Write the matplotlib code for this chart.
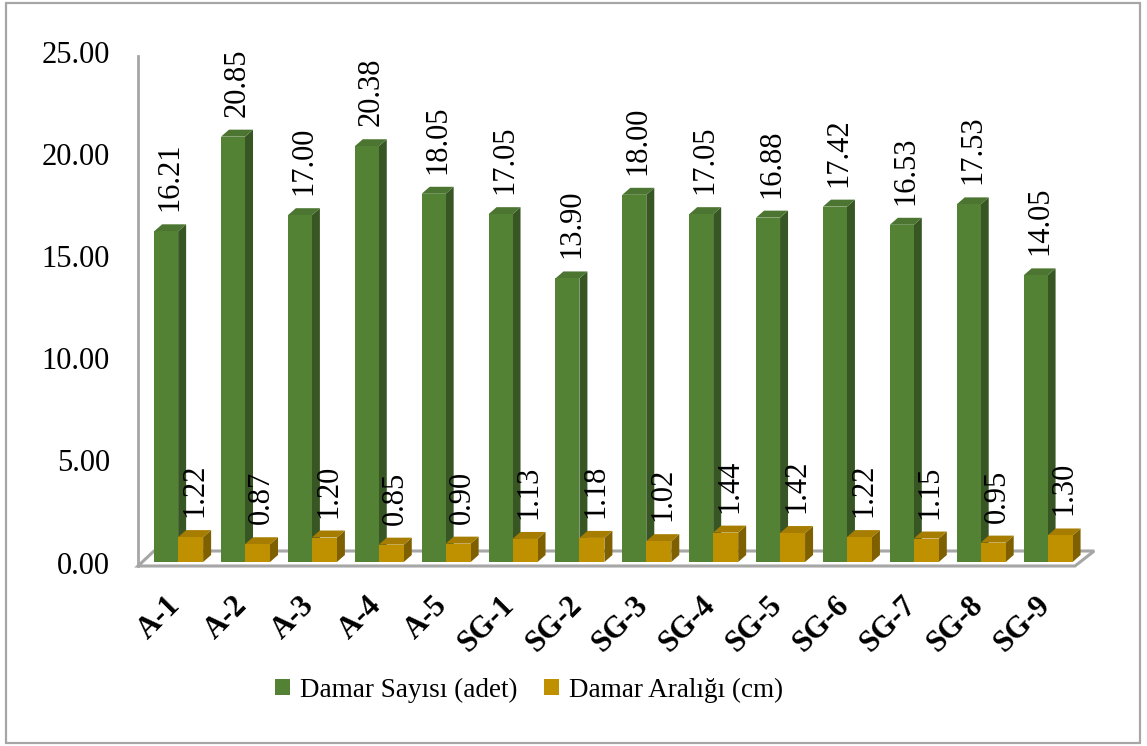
import matplotlib
matplotlib.use("Agg")
import matplotlib.pyplot as plt
from matplotlib.patches import Polygon, Patch, Rectangle
from matplotlib.transforms import blended_transform_factory

categories = ["A-1", "A-2", "A-3", "A-4", "A-5", "SG-1", "SG-2", "SG-3", "SG-4",
              "SG-5", "SG-6", "SG-7", "SG-8", "SG-9"]
damar_sayisi = [16.21, 20.85, 17.00, 20.38, 18.05, 17.05, 13.90, 18.00, 17.05,
                16.88, 17.42, 16.53, 17.53, 14.05]
damar_araligi = [1.22, 0.87, 1.20, 0.85, 0.90, 1.13, 1.18, 1.02, 1.44,
                 1.42, 1.22, 1.15, 0.95, 1.30]
series_names = ["Damar Sayısı (adet)", "Damar Aralığı (cm)"]
y_ticks = [0, 5, 10, 15, 20, 25]

W, H = 1147, 746
plt.rcParams['font.family'] = ['Liberation Serif', 'DejaVu Serif']

fig = plt.figure(figsize=(W / 100, H / 100), dpi=100)
# outer border
fig.patches.append(Rectangle((6 / W, 3 / H), (1140 - 6) / W, (743 - 3) / H,
                             transform=fig.transFigure, fill=False,
                             edgecolor='#a6a6a6', lw=1.6))

ax_l, ax_r, ax_b, ax_t = 138, 1075, 566, 56
ax = fig.add_axes([ax_l / W, 1 - ax_b / H, (ax_r - ax_l) / W, (ax_b - ax_t) / H])
xmin, xmax = -0.6, 13.41
ymin, ymax = 0, 25
ax.set_xlim(xmin, xmax)
ax.set_ylim(ymin, ymax)
ax.axis('off')

ppx = (ax_r - ax_l) / (xmax - xmin)   # pixels per x unit
ppy = (ax_b - ax_t) / (ymax - ymin)   # pixels per y unit

def dx(p):
    return p / ppx

def dy(p):
    return p / ppy

# floor
fdx, fdy = dx(16), dy(15)
floor = Polygon([(xmin, 0), (xmax, 0), (xmax + fdx * 1.2, fdy), (xmin + fdx, fdy)],
                closed=True, facecolor='white', edgecolor='#a6a6a6', lw=2.2,
                clip_on=False, zorder=1)
ax.add_patch(floor)
# left axis line
ax.plot([xmin, xmin], [0, 25], color='#a6a6a6', lw=2, clip_on=False, zorder=1)

# bars
gw = dx(24)
ow = dx(25)
bdx, bdy = dx(8), dy(7)
base = dy(4)
green = ('#548235', '#375623', '#4b7530')
gold = ('#bf9000', '#7f6000', '#a67d00')

def bar3d(x0, w, v, cols, z):
    y0 = base
    y1 = base + v
    front = Polygon([(x0, y0), (x0 + w, y0), (x0 + w, y1), (x0, y1)],
                    closed=True, facecolor=cols[0], edgecolor='none', zorder=z, clip_on=False)
    side = Polygon([(x0 + w, y0), (x0 + w + bdx, y0 + bdy), (x0 + w + bdx, y1 + bdy), (x0 + w, y1)],
                   closed=True, facecolor=cols[1], edgecolor='none', zorder=z, clip_on=False)
    top = Polygon([(x0, y1), (x0 + w, y1), (x0 + w + bdx, y1 + bdy), (x0 + bdx, y1 + bdy)],
                  closed=True, facecolor=cols[2], edgecolor='none', zorder=z, clip_on=False)
    for p in (side, top, front):
        ax.add_patch(p)

gap = dy(13)
for i, (g, o) in enumerate(zip(damar_sayisi, damar_araligi)):
    bar3d(i - gw, gw, g, green, 3 + i * 2)
    bar3d(i, ow, o, gold, 4 + i * 2)
    ax.text(i - gw / 2 + bdx / 2, base + g + bdy + gap, f"{g:.2f}", rotation=90,
            ha='center', va='bottom', fontsize=22, zorder=50)
    ax.text(i + ow / 2 + bdx / 2, base + o + bdy + gap, f"{o:.2f}", rotation=90,
            ha='center', va='bottom', fontsize=22, zorder=50)

# y tick labels
for t in y_ticks:
    ax.text(xmin - dx(28), t, f"{t:.2f}", ha='right', va='center', fontsize=22)

# category labels
tr = blended_transform_factory(ax.transData, ax.transAxes)
for i, c in enumerate(categories):
    ax.annotate(c, xy=(i, 0), xycoords=tr, xytext=(-9, -18), textcoords='offset points',
                rotation=45, ha='right', va='top', rotation_mode='anchor',
                fontsize=22, fontweight='bold')

handles = [Patch(facecolor=green[0], edgecolor='none'),
           Patch(facecolor=gold[0], edgecolor='none')]
fig.legend(handles, series_names, loc='center', bbox_to_anchor=(529 / W, 1 - 690 / H),
           ncol=2, frameon=False, fontsize=19.5, handlelength=0.55, handleheight=0.55,
           handletextpad=0.35, columnspacing=1.0)

fig.savefig('out.png', dpi=100)
